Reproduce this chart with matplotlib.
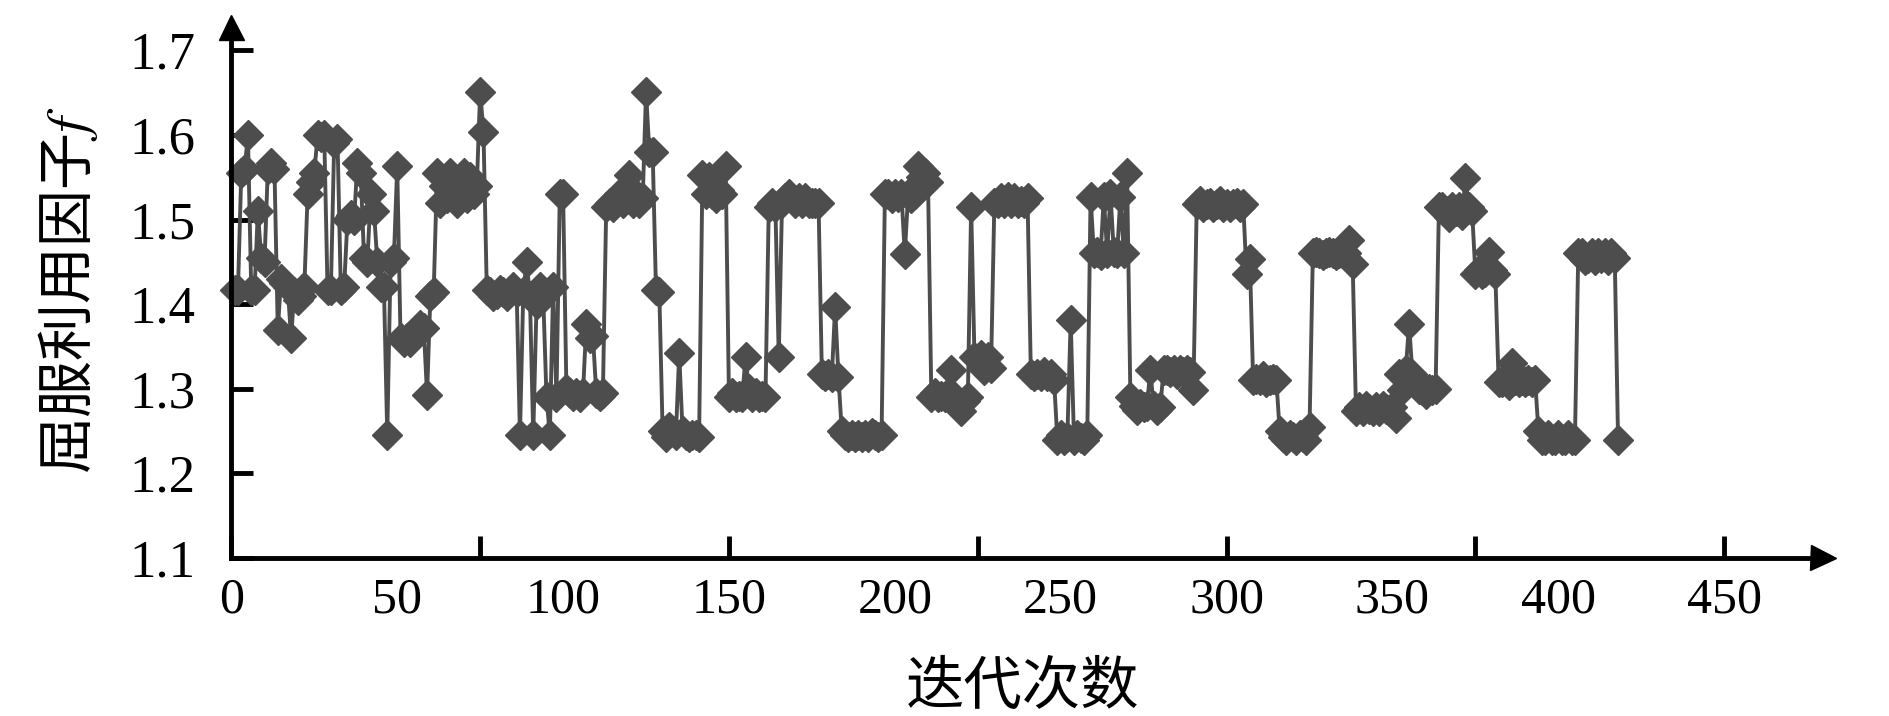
import matplotlib
matplotlib.use('Agg')
import matplotlib.pyplot as plt
import numpy as np

plt.rcParams['font.family'] = ['Liberation Serif', 'Noto Sans CJK SC']
plt.rcParams['mathtext.fontset'] = 'stix'

# yield utilisation factor f per iteration
f_vals = [
    1.417, 1.417, 1.555, 1.560, 1.600, 1.417, 1.417, 1.510, 1.455, 1.450,
    1.560, 1.567, 1.560, 1.370, 1.430, 1.425, 1.420, 1.360, 1.415, 1.405,
    1.410, 1.420, 1.530, 1.545, 1.555, 1.600, 1.598, 1.600, 1.417, 1.417,
    1.590, 1.595, 1.417, 1.420, 1.500, 1.505, 1.500, 1.567, 1.555, 1.455,
    1.450, 1.530, 1.510, 1.450, 1.420, 1.420, 1.245, 1.450, 1.455, 1.563,
    1.360, 1.355, 1.360, 1.355, 1.365, 1.370, 1.375, 1.372, 1.293, 1.410,
    1.415, 1.555, 1.520, 1.540, 1.525, 1.555, 1.530, 1.520, 1.545, 1.555,
    1.525, 1.550, 1.530, 1.540, 1.651, 1.604, 1.417, 1.415, 1.410, 1.412,
    1.417, 1.415, 1.410, 1.415, 1.420, 1.415, 1.245, 1.415, 1.450, 1.410,
    1.245, 1.400, 1.420, 1.410, 1.290, 1.245, 1.420, 1.290, 1.530, 1.530,
    1.300, 1.295, 1.292, 1.295, 1.290, 1.295, 1.377, 1.360, 1.362, 1.295,
    1.292, 1.295, 1.515, 1.520, 1.515, 1.525, 1.530, 1.520, 1.525, 1.553,
    1.520, 1.530, 1.520, 1.525, 1.651, 1.580, 1.580, 1.417, 1.415, 1.250,
    1.243, 1.255, 1.250, 1.245, 1.342, 1.250, 1.245, 1.243, 1.245, 1.245,
    1.243, 1.553, 1.530, 1.550, 1.530, 1.525, 1.535, 1.530, 1.563, 1.290,
    1.295, 1.290, 1.292, 1.290, 1.338, 1.300, 1.290, 1.295, 1.290, 1.292,
    1.290, 1.515, 1.520, 1.515, 1.338, 1.520, 1.525, 1.530, 1.525, 1.520,
    1.525, 1.520, 1.525, 1.520, 1.520, 1.520, 1.520, 1.318, 1.315, 1.318,
    1.314, 1.397, 1.314, 1.250, 1.245, 1.243, 1.245, 1.243, 1.245, 1.243,
    1.245, 1.243, 1.248, 1.245, 1.243, 1.245, 1.530, 1.530, 1.525, 1.530,
    1.527, 1.530, 1.459, 1.530, 1.525, 1.530, 1.563, 1.550, 1.555, 1.545,
    1.290, 1.295, 1.290, 1.292, 1.290, 1.295, 1.322, 1.290, 1.280, 1.274,
    1.285, 1.290, 1.515, 1.338, 1.335, 1.340, 1.322, 1.338, 1.325, 1.520,
    1.520, 1.525, 1.520, 1.527, 1.520, 1.525, 1.520, 1.522, 1.520, 1.525,
    1.318, 1.315, 1.318, 1.315, 1.320, 1.315, 1.318, 1.310, 1.239, 1.245,
    1.240, 1.243, 1.381, 1.240, 1.245, 1.242, 1.240, 1.245, 1.527, 1.460,
    1.462, 1.458, 1.527, 1.460, 1.530, 1.462, 1.460, 1.527, 1.460, 1.555,
    1.290, 1.280, 1.275, 1.282, 1.278, 1.280, 1.322, 1.280, 1.275, 1.278,
    1.322, 1.322, 1.320, 1.322, 1.318, 1.322, 1.320, 1.322, 1.320, 1.298,
    1.519, 1.522, 1.515, 1.519, 1.520, 1.515, 1.519, 1.522, 1.515, 1.519,
    1.515, 1.519, 1.520, 1.515, 1.519, 1.436, 1.454, 1.310, 1.312, 1.310,
    1.315, 1.308, 1.310, 1.312, 1.310, 1.250, 1.243, 1.240, 1.245, 1.243,
    1.240, 1.245, 1.243, 1.240, 1.255, 1.460, 1.462, 1.460, 1.458, 1.460,
    1.462, 1.460, 1.458, 1.460, 1.462, 1.460, 1.476, 1.448, 1.274, 1.278,
    1.274, 1.280, 1.276, 1.274, 1.278, 1.274, 1.280, 1.276, 1.274, 1.278,
    1.266, 1.318, 1.298, 1.322, 1.377, 1.318, 1.310, 1.300, 1.298, 1.294,
    1.300, 1.298, 1.300, 1.515, 1.515, 1.510, 1.503, 1.515, 1.510, 1.515,
    1.505, 1.549, 1.515, 1.510, 1.436, 1.440, 1.436, 1.438, 1.462, 1.440,
    1.436, 1.308, 1.308, 1.310, 1.305, 1.330, 1.310, 1.308, 1.310, 1.308,
    1.310, 1.308, 1.310, 1.250, 1.239, 1.240, 1.245, 1.239, 1.240, 1.245,
    1.239, 1.240, 1.245, 1.239, 1.240, 1.460, 1.460, 1.452, 1.455, 1.460,
    1.452, 1.460, 1.455, 1.460, 1.452, 1.460, 1.455, 1.239,
]
iters = np.arange(1, len(f_vals) + 1)

x_tick_marks = [0, 75, 150, 225, 300, 375, 450]
x_tick_labels = [0, 50, 100, 150, 200, 250, 300, 350, 400, 450]
y_ticks = [1.1, 1.2, 1.3, 1.4, 1.5, 1.6, 1.7]

fig = plt.figure(figsize=(18.9, 7.16), dpi=100)
ax = fig.add_axes([0.1224, 0.2207, 0.9646 - 0.1224, 0.9623 - 0.2207])

ax.plot(iters, f_vals, '-D', color='#4d4d4d', lw=2.8, ms=15, clip_on=False)

ax.set_xlim(0, 479.8)
ax.set_ylim(1.1, 1.7277)

for s in ['top', 'right']:
    ax.spines[s].set_visible(False)
for s in ['left', 'bottom']:
    ax.spines[s].set_linewidth(3.5)

# arrow heads at the ends of the axes
ax.plot(1, 0, marker='>', ms=18, color='k', transform=ax.transAxes, clip_on=False)
ax.plot(0, 1, marker='^', ms=18, color='k', transform=ax.transAxes, clip_on=False)

# tick marks every 75, labels every 50 (as in the original)
ax.xaxis.remove_overlapping_locs = False
ax.set_xticks(x_tick_marks)
ax.set_xticklabels([''] * len(x_tick_marks))
ax.set_xticks(x_tick_labels, minor=True)
ax.set_xticklabels([str(v) for v in x_tick_labels], minor=True)
ax.tick_params(axis='x', which='major', direction='in', length=16, width=3.5)
ax.tick_params(axis='x', which='minor', length=0, pad=14, labelsize=36)

ax.set_yticks(y_ticks)
ax.set_yticklabels(['%.1f' % v for v in y_ticks])
ax.tick_params(axis='y', direction='in', length=16, width=3.5, pad=26, labelsize=38)

fig.text(0.036, 0.595, '屈服利用因子$f$', rotation=90, ha='center', va='center',
         fontsize=41, family=['Noto Sans CJK SC'])
fig.text(0.541, 0.040, '迭代次数', ha='center', va='center',
         fontsize=42, family=['Noto Sans CJK SC'])

fig.savefig('out.png', dpi=100)
